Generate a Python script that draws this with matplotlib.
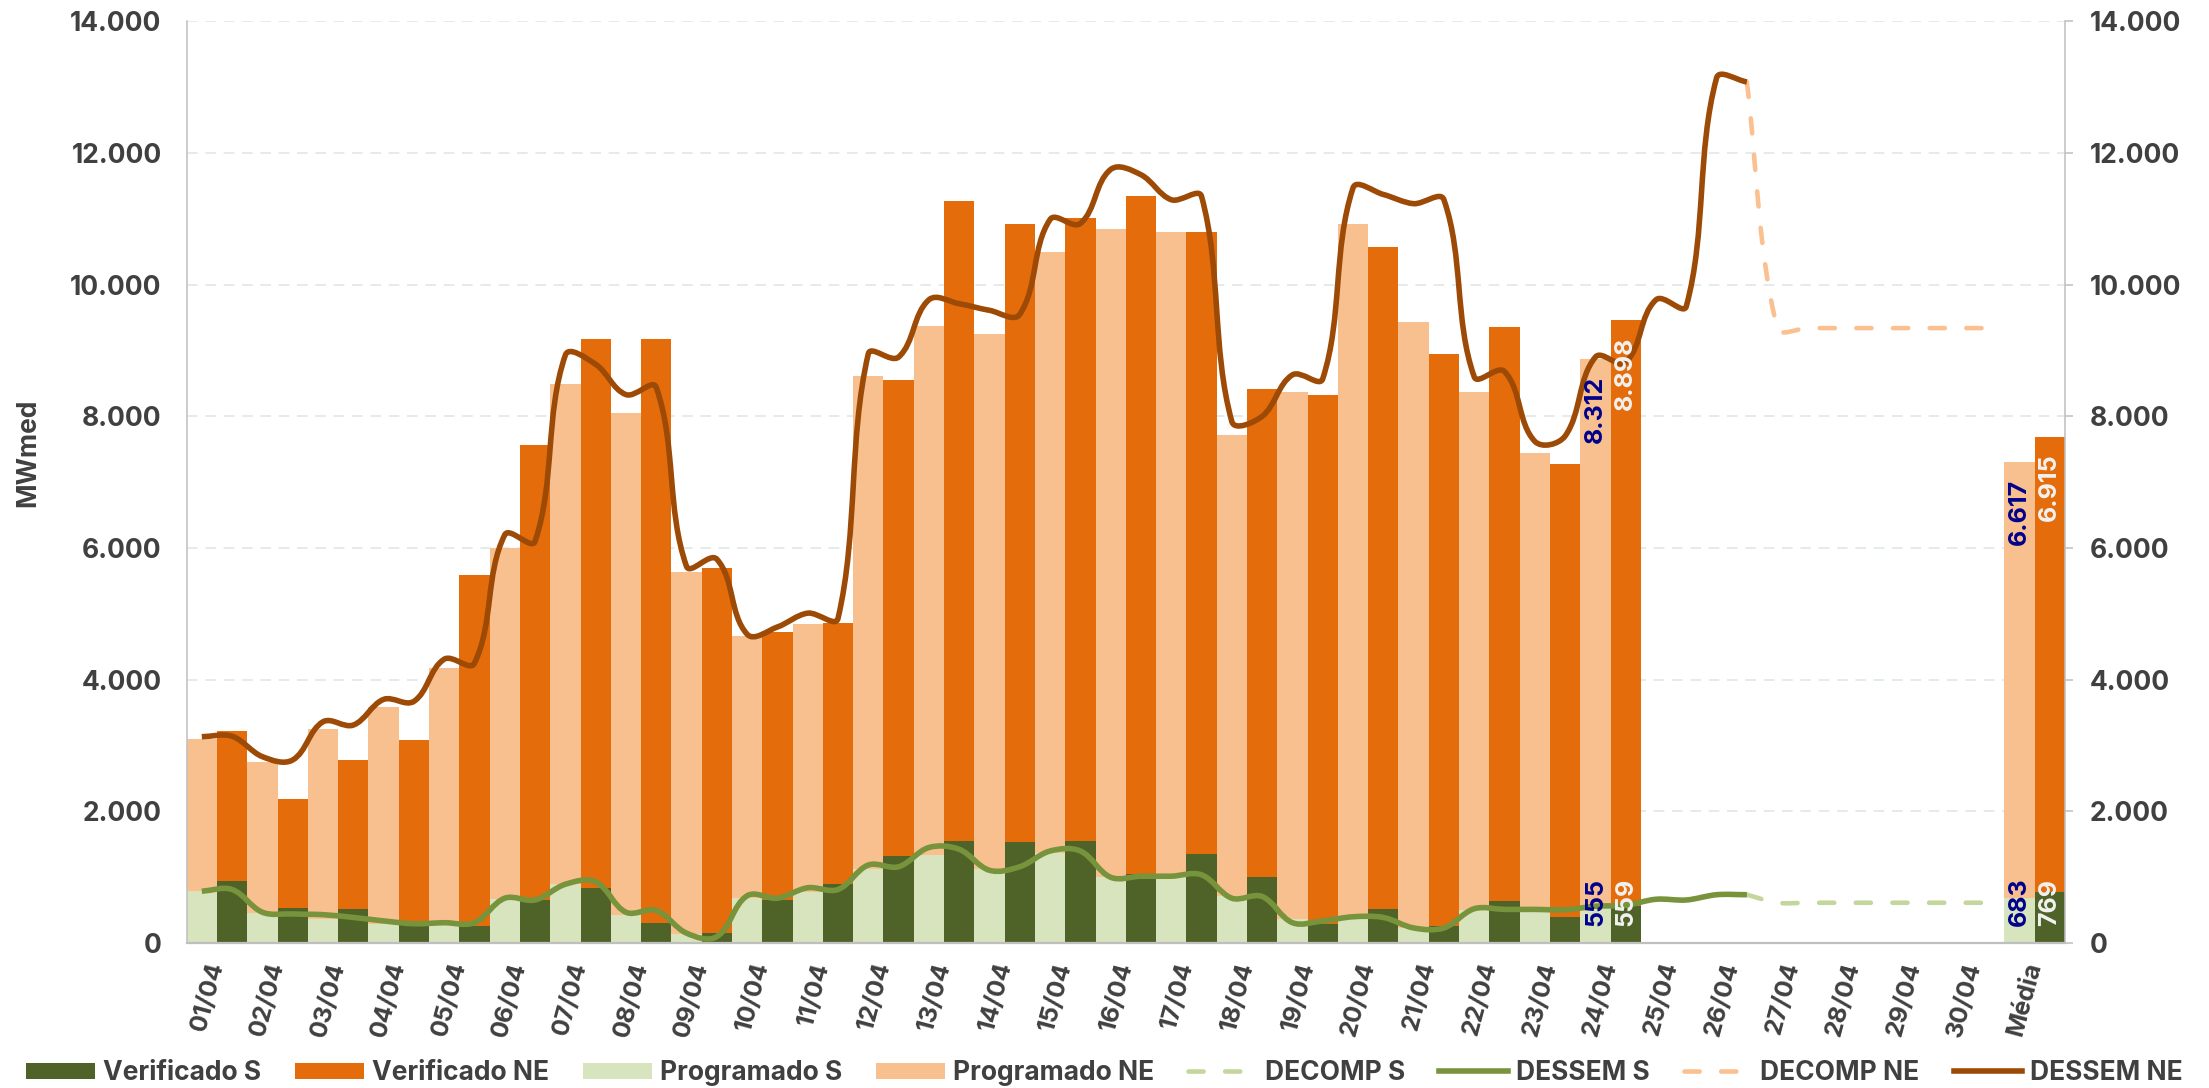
import numpy as np
import matplotlib.pyplot as plt
from matplotlib.path import Path
from matplotlib.patches import PathPatch, Patch
from matplotlib.lines import Line2D
from matplotlib.ticker import FuncFormatter, MultipleLocator

plt.rcParams['font.family'] = ['Inter', 'DejaVu Sans']
plt.rcParams['font.weight'] = 'bold'

TXT = '#404040'

# categorias do eixo x
categorias = [f'{d:02d}/04' for d in range(1, 31)] + ['Média']
dias_barras = categorias[:24] + ['Média']

# barras empilhadas (MWmed): parcela S embaixo, parcela NE em cima
prog_s = [797, 451, 361, 281, 281, 664, 892, 430, 133, 690, 770, 1131,
          1343, 1131, 1370, 998, 1025, 706, 361, 361, 228, 494, 467, 555, 683]
prog_ne = [2299, 2300, 2894, 3303, 3898, 5336, 7599, 7618, 5501, 3972, 4078, 7482,
           8029, 8121, 9119, 9854, 9768, 7011, 8001, 10562, 9208, 7874, 6978, 8312, 6617]
verif_s = [945, 536, 520, 308, 255, 650, 828, 308, 159, 653, 892, 1317,
           1556, 1540, 1556, 1051, 1354, 1009, 281, 510, 255, 642, 388, 559, 769]
verif_ne = [2268, 1657, 2257, 2772, 5336, 6908, 8342, 8872, 5539, 4078, 3972, 7241,
            9720, 9383, 9464, 10294, 9439, 7408, 8043, 10060, 8688, 8713, 6883, 8898, 6915]

# curvas (dois pontos por dia)
dessem_ne = [3133, 3140, 2830, 2780, 3360, 3310, 3700, 3670, 4310, 4250,
             6200, 6100, 8930, 8790, 8330, 8440, 5720, 5830, 4690, 4800,
             5010, 4930, 8950, 8900, 9770, 9710, 9610, 9550, 10990, 10930,
             11750, 11670, 11290, 11340, 7920, 8000, 8630, 8570, 11470, 11370,
             11230, 11290, 8600, 8680, 7620, 7700, 8900, 8820, 9770, 9670,
             13140, 13080]
dessem_s = [786, 812, 467, 441, 430, 388, 335, 292, 308, 308,
            680, 653, 892, 929, 467, 494, 149, 96, 717, 680,
            839, 812, 1184, 1158, 1450, 1423, 1104, 1158, 1397, 1397,
            998, 1014, 1014, 1035, 680, 706, 308, 335, 398, 388,
            228, 228, 520, 510, 510, 504, 558, 573, 664, 653,
            733, 733]
decomp_ne = [13080, 9340, 9340, 9340, 9340, 9340, 9340, 9340, 9340]
decomp_s = [733, 611, 611, 611, 611, 611, 611, 611, 611]

c_vs, c_vne = '#4F6228', '#E46C0A'
c_ps, c_pne = '#D7E4BD', '#F9C08F'
c_ds, c_dne = '#77933C', '#9C4A06'
c_cs, c_cne = '#C3D69B', '#FAC090'

FIG_W, FIG_H, DPI = 22.09, 10.88, 100
RECT = [0.0845, 0.1333, 0.8503, 0.8471]
YMAX = 14000


def fmt(v, pos=None):
    return f'{v:,.0f}'.replace(',', '.')


def curva_suave(x, y, t=1 / 3):
    # linha suavizada: Bezier cúbica por ponto, tangentes calculadas na escala da tela
    sx = FIG_W * DPI * RECT[2] / len(categorias)
    sy = FIG_H * DPI * RECT[3] / YMAX
    p = np.column_stack([np.asarray(x, float) * sx, np.asarray(y, float) * sy])
    n = len(p)
    tang = []
    for k in range(n):
        d = p[min(k + 1, n - 1)] - p[max(k - 1, 0)]
        tang.append(d / np.hypot(*d))
    verts = [p[0]]
    codes = [Path.MOVETO]
    for k in range(n - 1):
        seg = np.hypot(*(p[k + 1] - p[k]))
        verts += [p[k] + tang[k] * seg * t, p[k + 1] - tang[k + 1] * seg * t, p[k + 1]]
        codes += [Path.CURVE4] * 3
    return Path(np.array(verts) / [sx, sy], codes)


fig = plt.figure(figsize=(FIG_W, FIG_H), dpi=DPI)
ax = fig.add_axes(RECT)

xb = np.array([categorias.index(c) for c in dias_barras])
w = 0.5
ax.bar(xb - 0.25, prog_s, w, color=c_ps, zorder=2)
ax.bar(xb - 0.25, prog_ne, w, bottom=prog_s, color=c_pne, zorder=2)
ax.bar(xb + 0.25, verif_s, w, color=c_vs, zorder=2)
ax.bar(xb + 0.25, verif_ne, w, bottom=verif_s, color=c_vne, zorder=2)

x_dessem = np.ravel([[i - 0.25, i + 0.25] for i in range(26)])
x_decomp = np.concatenate([[25.25], np.ravel([[i - 0.25, i + 0.25] for i in range(26, 30)])])

tracejado = (0, (3.3, 4.7))
ax.add_patch(PathPatch(curva_suave(x_decomp, decomp_s), facecolor='none', edgecolor=c_cs,
                       lw=3.3, linestyle=tracejado, capstyle='round', zorder=3))
ax.add_patch(PathPatch(curva_suave(x_decomp, decomp_ne), facecolor='none', edgecolor=c_cne,
                       lw=3.3, linestyle=tracejado, capstyle='round', zorder=3))
ax.add_patch(PathPatch(curva_suave(x_dessem, dessem_s), facecolor='none', edgecolor=c_ds,
                       lw=4, joinstyle='round', zorder=4))
ax.add_patch(PathPatch(curva_suave(x_dessem, dessem_ne), facecolor='none', edgecolor=c_dne,
                       lw=4, joinstyle='round', zorder=4))

# rótulos de valor: último dia verificado e média
for cat in ['24/04', 'Média']:
    i = categorias.index(cat)
    j = dias_barras.index(cat)
    kw = dict(textcoords='offset points', rotation=90, ha='center',
              fontsize=18, fontweight='bold', zorder=6)
    ax.annotate(fmt(prog_s[j]), (i - 0.25, 0), xytext=(0, 12), va='bottom', color='#00008B', **kw)
    ax.annotate(fmt(prog_ne[j]), (i - 0.25, prog_s[j] + prog_ne[j]), xytext=(0, -12),
                va='top', color='#00008B', **kw)
    ax.annotate(fmt(verif_s[j]), (i + 0.25, 0), xytext=(0, 12), va='bottom', color='#F2F2F2', **kw)
    ax.annotate(fmt(verif_ne[j]), (i + 0.25, verif_s[j] + verif_ne[j]), xytext=(0, -12),
                va='top', color='#F2F2F2', **kw)

ax.set_xlim(-0.5, len(categorias) - 0.5)
ax.set_ylim(0, YMAX)
ax.yaxis.set_major_locator(MultipleLocator(2000))
ax.yaxis.set_major_formatter(FuncFormatter(fmt))
ax.grid(axis='y', color='#DCE6E6', lw=1.1, linestyle=(0, (7, 5)), zorder=0)
ax.set_axisbelow(True)

ax.set_xticks(range(len(categorias)))
ax.set_xticklabels(categorias, rotation=75, ha='right', va='center', rotation_mode='anchor')
ax.tick_params(axis='x', length=0, pad=14, labelsize=18, labelcolor=TXT)
ax.tick_params(axis='y', length=0, pad=18, labelsize=19, labelcolor=TXT)

for s in ['top', 'right']:
    ax.spines[s].set_visible(False)
ax.spines['left'].set_color('#BFBFBF')
ax.spines['left'].set_linewidth(1.1)
ax.spines['bottom'].set_color('#BFBFBF')
ax.spines['bottom'].set_linewidth(1.6)

ax2 = ax.twinx()
ax2.set_ylim(0, YMAX)
ax2.yaxis.set_major_locator(MultipleLocator(2000))
ax2.yaxis.set_major_formatter(FuncFormatter(fmt))
ax2.tick_params(axis='y', length=6, width=1.1, color='#BFBFBF', pad=12,
                labelsize=19, labelcolor=TXT)
for s in ['top', 'left', 'bottom']:
    ax2.spines[s].set_visible(False)
ax2.spines['right'].set_color('#BFBFBF')
ax2.spines['right'].set_linewidth(1.1)

fig.text(28 / 2209, 1 - 453 / 1088, 'MWmed', rotation=90, ha='center', va='center',
         fontsize=19, fontweight='bold', color=TXT)

handles = [
    Patch(facecolor=c_vs, label='Verificado S'),
    Patch(facecolor=c_vne, label='Verificado NE'),
    Patch(facecolor=c_ps, label='Programado S'),
    Patch(facecolor=c_pne, label='Programado NE'),
    Line2D([], [], color=c_cs, lw=3.3, linestyle=tracejado, dash_capstyle='round', label='DECOMP S'),
    Line2D([], [], color=c_ds, lw=4, label='DESSEM S'),
    Line2D([], [], color=c_cne, lw=3.3, linestyle=tracejado, dash_capstyle='round', label='DECOMP NE'),
    Line2D([], [], color=c_dne, lw=4, label='DESSEM NE'),
]
leg = fig.legend(handles=handles, loc='center', bbox_to_anchor=(0.5, 0.0138), ncol=8,
                 frameon=False, fontsize=19, handlelength=2.6, handleheight=0.55,
                 handletextpad=0.3, columnspacing=1.3)
for t in leg.get_texts():
    t.set_color(TXT)

fig.savefig('out.png', dpi=DPI)
